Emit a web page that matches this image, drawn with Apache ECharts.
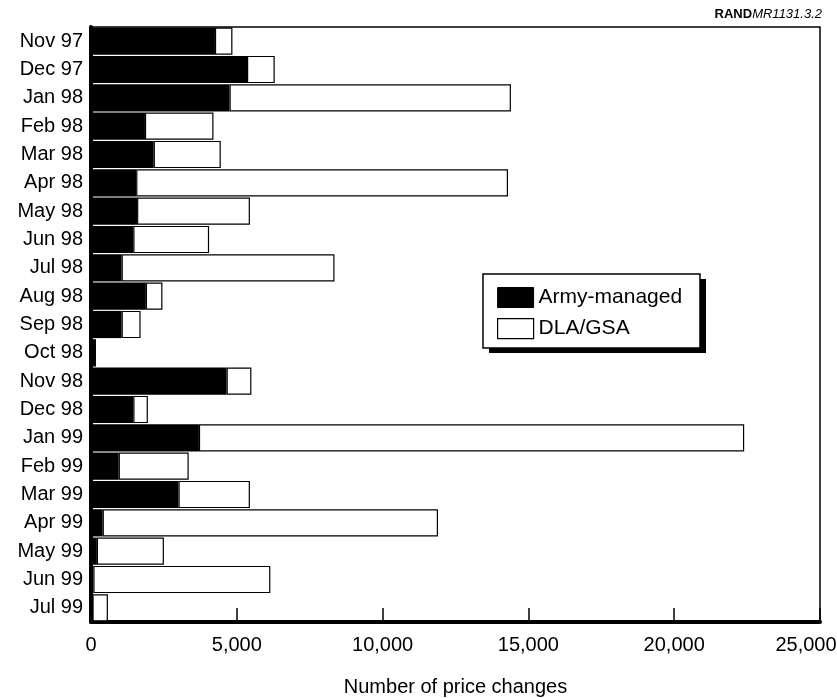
<!DOCTYPE html>
<html>
<head>
<meta charset="utf-8">
<script src="https://cdn.jsdelivr.net/npm/echarts@6/dist/echarts.min.js"></script>
<style>html,body{margin:0;padding:0;background:#fff;overflow:hidden}#c{width:837px;height:698px}</style>
</head>
<body>
<div id="c"></div>
<script>
var categories = ["Nov 97","Dec 97","Jan 98","Feb 98","Mar 98","Apr 98","May 98","Jun 98","Jul 98","Aug 98","Sep 98","Oct 98","Nov 98","Dec 98","Jan 99","Feb 99","Mar 99","Apr 99","May 99","Jun 99","Jul 99"];
var armyManaged = [4250,5350,4750,1850,2150,1550,1580,1450,1050,1880,1050,150,4650,1450,3700,950,3000,400,200,80,50];
var dlaGsa = [600,950,9650,2350,2300,12750,3870,2600,7300,570,650,0,850,500,18700,2400,2450,11500,2300,6070,530];
var xTicks = [0,5000,10000,15000,20000,25000];

var font = "'Liberation Sans', Arial, sans-serif";
var chart = echarts.init(document.getElementById('c'), null, {renderer:'canvas'});
chart.setOption({
  animation:false,
  backgroundColor:'#fff',
  textStyle:{fontFamily:font,color:'#000'},
  grid:{left:91,top:27,right:17,bottom:76,show:true,borderColor:'#000',borderWidth:1.5,
    containLabel:false,outerBoundsMode:'none'},
  legend:{
    left:497, top:287, orient:'vertical',
    itemWidth:36, itemHeight:20, itemGap:10,
    padding:0, icon:'rect',
    textStyle:{fontFamily:font,fontSize:21,color:'#000'},
    data:[
      {name:'Army-managed',itemStyle:{color:'#000',borderColor:'#000',borderWidth:1}},
      {name:'DLA/GSA',itemStyle:{color:'#fff',borderColor:'#000',borderWidth:1.2}}
    ]
  },
  graphic:[
    {type:'rect',z:0,shape:{x:489,y:279,width:217,height:74},style:{fill:'#000'}},
    {type:'rect',z:1,shape:{x:483,y:274,width:217,height:74},style:{fill:'#fff',stroke:'#000',lineWidth:1.5}},
    {type:'text', right:15, top:8,
      style:{rich:{b:{fontWeight:'bold',fontSize:13,fontFamily:font,fill:'#000'},i:{fontStyle:'italic',fontSize:13,fontFamily:font,fill:'#000'}},
      text:'{b|RAND}{i|MR1131.3.2}'}
    }
  ],
  xAxis:{
    type:'value', min:0, max:25000, interval:5000,
    name:'Number of price changes', nameLocation:'middle', nameGap:55,
    nameTextStyle:{fontFamily:font,fontSize:20,color:'#000'},
    axisLine:{show:true,lineStyle:{color:'#000',width:4}},
    axisTick:{show:true,inside:true,length:14,lineStyle:{color:'#000',width:1.5}},
    axisLabel:{fontFamily:font,fontSize:20,color:'#000',margin:13,
      rich:{r:{fontFamily:font,fontSize:20,color:'#000',padding:[0,28,0,0]}},
      formatter:function(v){
        var s = v.toLocaleString('en-US');
        return v === xTicks[xTicks.length-1] ? '{r|' + s + '}' : s;
      }},
    splitLine:{show:false}
  },
  yAxis:{
    type:'category', data:categories, inverse:true,
    axisLine:{show:true,lineStyle:{color:'#000',width:4}},
    axisTick:{show:false},
    axisLabel:{fontFamily:font,fontSize:20,color:'#000',margin:8}
  },
  series:[
    {name:'Army-managed',type:'bar',stack:'t',data:armyManaged,barCategoryGap:'4%',
      itemStyle:{color:'#000',borderColor:'#000',borderWidth:0}},
    {name:'DLA/GSA',type:'bar',stack:'t',data:dlaGsa,barCategoryGap:'4%',
      itemStyle:{color:'#fff',borderColor:'#000',borderWidth:1.2}}
  ]
});
</script>
</body>
</html>
